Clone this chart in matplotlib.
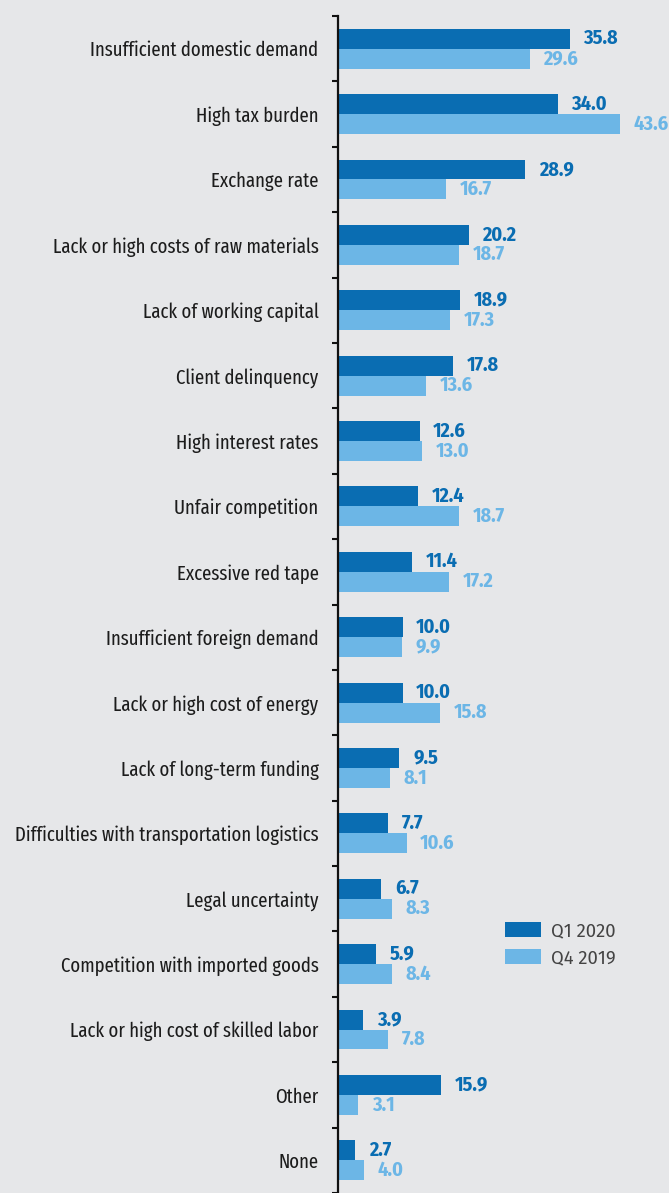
import matplotlib
matplotlib.use("Agg")
import matplotlib.pyplot as plt
import numpy as np
from matplotlib.patches import Patch

categories = [
    "Insufficient domestic demand", "High tax burden", "Exchange rate",
    "Lack or high costs of raw materials", "Lack of working capital",
    "Client delinquency", "High interest rates", "Unfair competition",
    "Excessive red tape", "Insufficient foreign demand",
    "Lack or high cost of energy", "Lack of long-term funding",
    "Difficulties with transportation logistics", "Legal uncertainty",
    "Competition with imported goods", "Lack or high cost of skilled labor",
    "Other", "None",
]
q1_2020 = [35.8, 34.0, 28.9, 20.2, 18.9, 17.8, 12.6, 12.4, 11.4, 10.0, 10.0,
           9.5, 7.7, 6.7, 5.9, 3.9, 15.9, 2.7]
q4_2019 = [29.6, 43.6, 16.7, 18.7, 17.3, 13.6, 13.0, 18.7, 17.2, 9.9, 15.8,
           8.1, 10.6, 8.3, 8.4, 7.8, 3.1, 4.0]
series_names = ["Q1 2020", "Q4 2019"]

BG = "#e6e7e9"
DARK = "#0a6db2"
LIGHT = "#6cb6e6"
TXT = "#1c1c1c"
XCOND = ["Fira Sans Extra Condensed", "DejaVu Sans"]
COND = ["Fira Sans Condensed", "DejaVu Sans"]

W, H = 669, 1193
fig = plt.figure(figsize=(W / 100, H / 100), dpi=100, facecolor=BG)
top_px = 16
ax = fig.add_axes([338 / W, 0, 1 - 338 / W, 1 - top_px / H])
ax.set_facecolor(BG)

band_px = 65.7
n = len(categories)
y = np.arange(n)
bh = 0.305
ax.barh(y - bh / 2, q1_2020, height=bh, color=DARK, zorder=2)
ax.barh(y + bh / 2, q4_2019, height=bh, color=LIGHT, zorder=2)

ax.set_xlim(0, 331 / 6.47)
ax.set_ylim(-0.5 + (H - top_px) / band_px, -0.5)

off = 2.1
for i in range(n):
    ax.text(q1_2020[i] + off, y[i] - bh / 2, f"{q1_2020[i]:.1f}", va="center",
            ha="left", color=DARK, fontsize=14.5, fontweight="bold", family=COND)
    ax.text(q4_2019[i] + off, y[i] + bh / 2, f"{q4_2019[i]:.1f}", va="center",
            ha="left", color=LIGHT, fontsize=14.5, fontweight="bold", family=COND)

for s in ["top", "right", "bottom"]:
    ax.spines[s].set_visible(False)
ax.spines["left"].set_linewidth(1.6)
ax.spines["left"].set_color("#111111")
ax.set_xticks([])
ax.set_yticks(y)
ax.set_yticklabels(categories, family=XCOND, fontsize=14.7, color=TXT)
ax.tick_params(axis="y", which="major", length=0, pad=14)
ax.set_yticks(np.arange(-0.5, n, 1.0), minor=True)
ax.tick_params(axis="y", which="minor", length=4, width=1.5, color="#111111")

handles = [Patch(facecolor=DARK, edgecolor="none"), Patch(facecolor=LIGHT, edgecolor="none")]
ax.legend(handles, series_names, loc="upper left",
          bbox_to_anchor=(505 / W, 1 - 922 / H), bbox_transform=fig.transFigure,
          frameon=False, borderpad=0, borderaxespad=0, handlelength=1.95,
          handleheight=0.88, handletextpad=0.55, labelspacing=0.5,
          prop={"family": "Fira Sans", "size": 13.3}, labelcolor="#444444")

fig.savefig("out.png", dpi=100, facecolor=BG)
